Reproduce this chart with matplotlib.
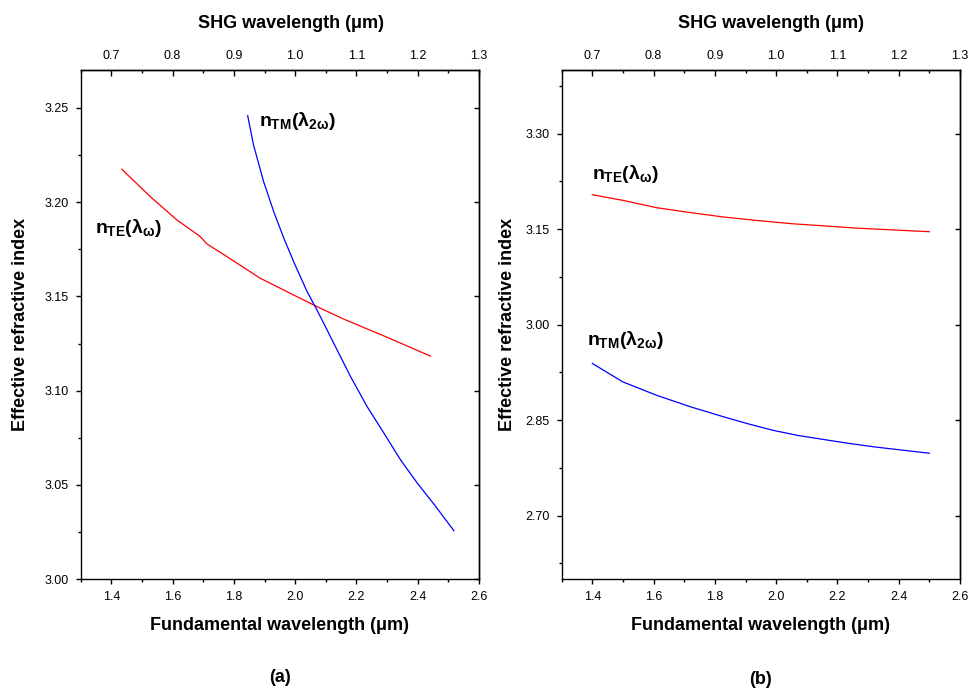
import matplotlib
matplotlib.use("Agg")
import matplotlib.pyplot as plt
from matplotlib.ticker import MultipleLocator, FormatStrFormatter

plt.rcParams['font.family'] = ['Liberation Sans', 'DejaVu Sans']
plt.rcParams['mathtext.fontset'] = 'custom'
plt.rcParams['mathtext.rm'] = 'Liberation Sans:bold'
plt.rcParams['mathtext.it'] = 'Liberation Sans:bold'
plt.rcParams['mathtext.bf'] = 'Liberation Sans:bold'

# (a) effective indices vs fundamental wavelength (um)
te_a_x = [1.434, 1.527, 1.614, 1.690, 1.712, 1.777, 1.886, 1.995, 2.072, 2.159,
          2.290, 2.442]
te_a_y = [3.2174, 3.2029, 3.1905, 3.1817, 3.1778, 3.1711, 3.1596, 3.1507, 3.1445, 3.1379,
          3.1290, 3.1183]
tm_a_x = [1.845, 1.864, 1.897, 1.930, 1.963, 1.995, 2.039, 2.072, 2.097, 2.126,
          2.181, 2.235, 2.290, 2.344, 2.399, 2.453, 2.518]
tm_a_y = [3.2458, 3.2303, 3.2108, 3.1949, 3.1808, 3.1684, 3.1525, 3.1425, 3.1345, 3.1251,
          3.1074, 3.0915, 3.0774, 3.0633, 3.0509, 3.0398, 3.0258]

# (b)
te_b_x = [1.40, 1.50, 1.61, 1.72, 1.83, 1.94, 2.05, 2.16, 2.26, 2.38, 2.50]
te_b_y = [3.2041, 3.1952, 3.1837, 3.1760, 3.1690, 3.1635, 3.1586, 3.1550, 3.1517, 3.1488, 3.1460]
tm_b_x = [1.40, 1.50, 1.61, 1.72, 1.83, 1.91, 1.99, 2.07, 2.15, 2.23, 2.32, 2.41, 2.50]
tm_b_y = [2.939, 2.910, 2.889, 2.871, 2.855, 2.844, 2.834, 2.826, 2.820, 2.814, 2.808, 2.803, 2.798]

xlab_bottom = "Fundamental wavelength (\u03bcm)"
xlab_top = "SHG wavelength (\u03bcm)"
ylab = "Effective refractive index"
lab_te = r"$n_{TE}(\lambda_{\omega})$"
lab_tm = r"$n_{TM}(\lambda_{2\omega})$"

W, H = 970, 690
fig = plt.figure(figsize=(W / 100, H / 100), dpi=100)


def px_axes(x0, y0, x1, y1):
    return fig.add_axes([x0 / W, 1 - y1 / H, (x1 - x0) / W, (y1 - y0) / H])


def style(ax, ylim, ymaj, ymin, ylabx, toplab_px):
    ax.set_xlim(1.3, 2.6)
    ax.set_ylim(*ylim)
    ax.xaxis.set_major_locator(MultipleLocator(0.2))
    ax.xaxis.set_minor_locator(MultipleLocator(0.1))
    ax.yaxis.set_major_locator(MultipleLocator(ymaj))
    ax.yaxis.set_minor_locator(MultipleLocator(ymin))
    ax.xaxis.set_major_formatter(FormatStrFormatter('%.1f'))
    ax.yaxis.set_major_formatter(FormatStrFormatter('%.2f'))
    ax.tick_params(which='both', direction='out', width=1.0, labelsize=9,
                   top=False, right=False)
    ax.tick_params(which='major', length=3.6, pad=5)
    ax.tick_params(which='minor', length=2.4)
    for s in ax.spines.values():
        s.set_linewidth(1.0)

    ax.set_xlabel(xlab_bottom, fontsize=13, fontweight='bold')
    ax.xaxis.set_label_coords(0.5, -0.09)
    ax.xaxis.label.set_va('center')
    ax.set_ylabel(ylab, fontsize=13, fontweight='bold')
    ax.yaxis.set_label_coords(ylabx, 0.5)
    ax.yaxis.label.set_va('center')

    # SHG scale on top: half of the fundamental wavelength
    top = ax.secondary_xaxis('top', functions=(lambda x: x / 2, lambda x: x * 2))
    top.xaxis.set_major_locator(MultipleLocator(0.1))
    top.xaxis.set_minor_locator(MultipleLocator(0.05))
    top.xaxis.set_major_formatter(FormatStrFormatter('%.1f'))
    top.tick_params(which='both', direction='in', width=1.0, labelsize=9)
    top.tick_params(which='major', length=4.0, pad=6)
    top.tick_params(which='minor', length=2.4)
    top.spines['top'].set_linewidth(1.0)
    fig.text(toplab_px / W, 1 - 24 / H, xlab_top, fontsize=13, fontweight='bold',
             ha='center', va='center')

    right = ax.secondary_yaxis('right')
    right.yaxis.set_major_locator(MultipleLocator(ymaj))
    right.yaxis.set_minor_locator(plt.NullLocator())
    right.tick_params(direction='in', length=3.6, width=1.0, labelright=False)
    right.spines['right'].set_linewidth(1.0)


ax1 = px_axes(80.7, 70, 479, 579.3)
style(ax1, (3.00, 3.27), 0.05, 0.025, -0.152, 291)
ax1.plot(te_a_x, te_a_y, color='red', lw=0.9)
ax1.plot(tm_a_x, tm_a_y, color='blue', lw=0.9)
ax1.text(1.347, 3.1835, lab_te, fontsize=14, ha='left', va='baseline')
ax1.text(1.881, 3.2404, lab_tm, fontsize=14, ha='left', va='baseline')

ax2 = px_axes(561.7, 70, 960, 579.3)
style(ax2, (2.60, 3.40), 0.15, 0.075, -0.135, 771)
ax2.plot(te_b_x, te_b_y, color='red', lw=0.9)
ax2.plot(tm_b_x, tm_b_y, color='blue', lw=0.9)
ax2.text(1.398, 3.2292, lab_te, fontsize=14, ha='left', va='baseline')
ax2.text(1.382, 2.9677, lab_tm, fontsize=14, ha='left', va='baseline')

fig.text(280 / W, 1 - 678 / H, "(a)", fontsize=13, fontweight='bold', ha='center', va='center')
fig.text(761 / W, 1 - 679 / H, "(b)", fontsize=13, fontweight='bold', ha='center', va='center')

fig.savefig("out.png", dpi=100)
